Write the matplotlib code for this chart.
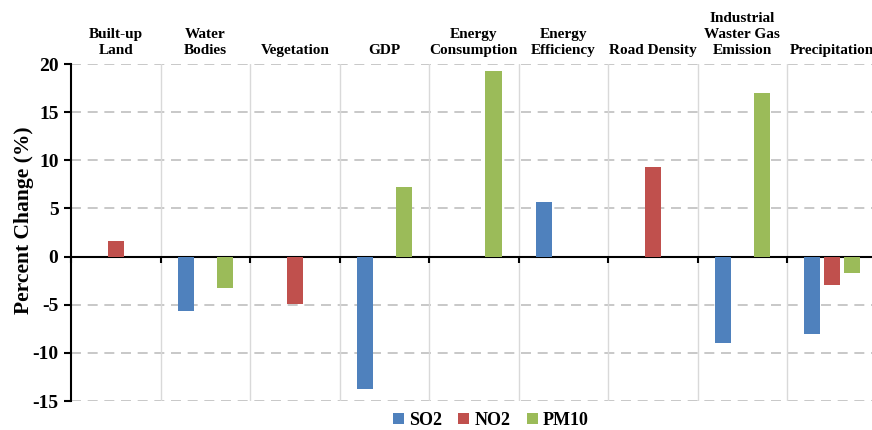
import numpy as np
import matplotlib
matplotlib.use('Agg')
import matplotlib.pyplot as plt
from matplotlib.transforms import blended_transform_factory

categories = ['Built-up\nLand', 'Water\nBodies', 'Vegetation', 'GDP', 'Energy\nConsumption',
              'Energy\nEfficiency', 'Road Density', 'Industrial\nWaster Gas\nEmission', 'Precipitation']
so2 = [0, -5.7, 0, -13.7, 0, 5.7, 0, -9.0, -8.0]
no2 = [1.6, 0, -4.9, 0, 0, 0, 9.3, 0, -2.9]
pm10 = [0, -3.3, 0, 7.2, 19.3, 0, 0, 17.0, -1.7]
series = {'SO2': (so2, '#4f81bd'), 'NO2': (no2, '#c0504d'), 'PM10': (pm10, '#9bbb59')}

plt.rcParams['font.family'] = ['Liberation Serif', 'DejaVu Serif']
plt.rcParams['font.weight'] = 'bold'
plt.rcParams['axes.unicode_minus'] = False

fig = plt.figure(figsize=(8.72, 4.30), dpi=100)
ax = fig.add_axes([0.0814, 0.0674, 0.924, 0.7836])

x = np.arange(len(categories))
w = 0.18
offsets = [-0.22, 0, 0.22]
for (name, (vals, col)), off in zip(series.items(), offsets):
    ax.bar(x + off, vals, width=w, color=col, label=name, zorder=3)

ax.set_xlim(-0.5, len(categories) - 0.5)
ax.set_ylim(-15, 20)
ax.set_yticks(np.arange(-15, 21, 5))
for v in [-15, -10, -5, 5, 10, 15, 20]:
    ax.axhline(v, color='#bfbfbf', ls=(0, (6, 4)), lw=1.2, zorder=1)
for b in np.arange(0.5, len(categories) - 0.5, 1):
    ax.axvline(b, color='#d9d9d9', lw=1.0, zorder=1)

for s in ['top', 'right']:
    ax.spines[s].set_visible(False)
ax.spines['bottom'].set_position(('data', 0))
ax.spines['bottom'].set_linewidth(1.5)
ax.spines['left'].set_linewidth(1.5)
ax.set_xticks(np.arange(-0.5, len(categories) - 0.5, 1))
ax.set_xticklabels([])
ax.tick_params(axis='x', direction='out', length=4, width=1.5)
ax.tick_params(axis='y', direction='out', length=5, width=1.5, labelsize=14, pad=4)
for lab in ax.get_yticklabels():
    lab.set_fontweight('bold')

ax.set_ylabel('Percent Change (%)', fontsize=15.5, fontweight='bold')
ax.yaxis.set_label_coords(-0.046, 0.537)

trans = blended_transform_factory(ax.transData, ax.transAxes)
for i, c in enumerate(categories):
    ax.text(i, 1.022, c, transform=trans, ha='center', va='bottom',
            fontsize=11, fontweight='bold', linespacing=1.3)

leg = fig.legend(loc='lower center', bbox_to_anchor=(0.563, -0.035), ncol=3, frameon=False,
                 handlelength=0.6, handleheight=0.6, handletextpad=0.3, columnspacing=0.9,
                 prop={'size': 13, 'weight': 'bold'})

fig.savefig('out.png', dpi=100)
